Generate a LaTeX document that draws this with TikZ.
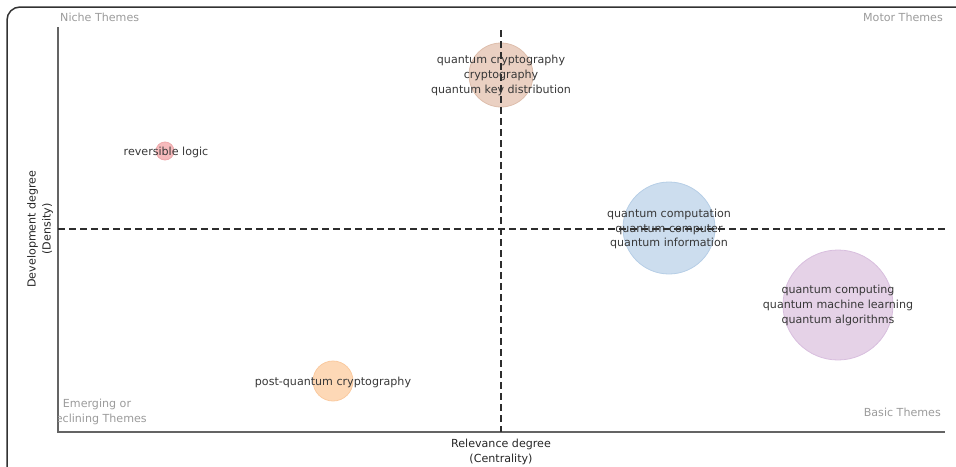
\documentclass[tikz,border=0pt]{standalone}
\usepackage{fontspec}
\setmainfont{DejaVu Sans}
\definecolor{framec}{RGB}{50,50,50}
\definecolor{axisc}{RGB}{100,100,100}
\definecolor{dashc}{RGB}{45,45,45}
\definecolor{labc}{RGB}{55,55,55}
\definecolor{themec}{RGB}{155,155,155}
\definecolor{brownF}{RGB}{234,208,194}
\definecolor{brownE}{RGB}{222,190,172}
\definecolor{redF}{RGB}{246,186,188}
\definecolor{redE}{RGB}{238,170,172}
\definecolor{blueF}{RGB}{204,221,238}
\definecolor{blueE}{RGB}{182,206,230}
\definecolor{purpF}{RGB}{229,210,231}
\definecolor{purpE}{RGB}{216,190,222}
\definecolor{orF}{RGB}{253,216,182}
\definecolor{orE}{RGB}{250,202,160}
\tikzset{
  bubble/.style={circle, inner sep=0pt, line width=0.8pt},
  blabel/.style={text=labc, align=center, inner sep=0pt, font=\fontsize{11.1}{14.6}\selectfont},
  theme/.style={text=themec, align=center, inner sep=0pt, font=\fontsize{11.1}{14.6}\selectfont},
  axlabel/.style={text=black!85, align=center, inner sep=0pt, font=\fontsize{11.1}{15}\selectfont},
  axisline/.style={draw=axisc, line width=1.4pt},
  quadline/.style={draw=dashc, line width=1.2pt, dash pattern=on 6.5pt off 4.5pt},
}
\begin{document}
\begin{tikzpicture}[x=1pt,y=-1pt]
\useasboundingbox (0,0) rectangle (956,466);
% frame
\draw[framec, line width=1.5pt] (7,470) -- (7,20) arc[start angle=180, end angle=270, radius=13] -- (960,7);
% axes
\coordinate (o) at (58,432);
\coordinate (ytop) at (58,27);
\coordinate (xend) at (945,432);
\draw[axisline] (ytop) -- (o) -- (xend);
% quadrant lines
\coordinate (vt) at (501,30);
\coordinate (vb) at (501,432);
\coordinate (hl) at (58,229);
\coordinate (hr) at (945,229);
% bubbles
\node[bubble, fill=brownF, draw=brownE, minimum size=64pt] (bBrown) at (501,75) {};
\node[bubble, fill=redF, draw=redE, minimum size=18pt] (bRed) at (165,151) {};
\node[bubble, fill=blueF, draw=blueE, minimum size=92pt] (bBlue) at (669,228) {};
\node[bubble, fill=purpF, draw=purpE, minimum size=110pt] (bPurp) at (838,305) {};
\node[bubble, fill=orF, draw=orE, minimum size=40pt] (bOr) at (333,381) {};
\draw[quadline] (vt) -- (vb);
\draw[quadline] (hl) -- (hr);
% bubble labels
\node[blabel] (tBrown) at (501,75.5) {quantum cryptography\\cryptography\\quantum key distribution};
\node[blabel] (tRed) at (166,152) {reversible logic};
\node[blabel] (tBlue) at (669,229) {quantum computation\\quantum computer\\quantum information};
\node[blabel] (tPurp) at (838,305.5) {quantum computing\\quantum machine learning\\quantum algorithms};
\node[blabel] (tOr) at (333,382) {post-quantum cryptography};
% theme labels
\node[theme, anchor=west] (niche) at (60,17) {Niche Themes};
\node[theme, anchor=east] (motor) at (943,17) {Motor Themes};
\node[theme, anchor=east] (basic) at (941,412) {Basic Themes};
\begin{scope}
\clip (58,380) rectangle (200,440);
\node[theme] (emerg) at (97,412) {Emerging or\\Declining Themes};
\end{scope}
% axis labels
\node[axlabel] (xlab) at (501,452) {Relevance degree\\(Centrality)};
\node[axlabel, rotate=90] (ylab) at (40,229) {Development degree\\(Density)};
\end{tikzpicture}
\end{document}
